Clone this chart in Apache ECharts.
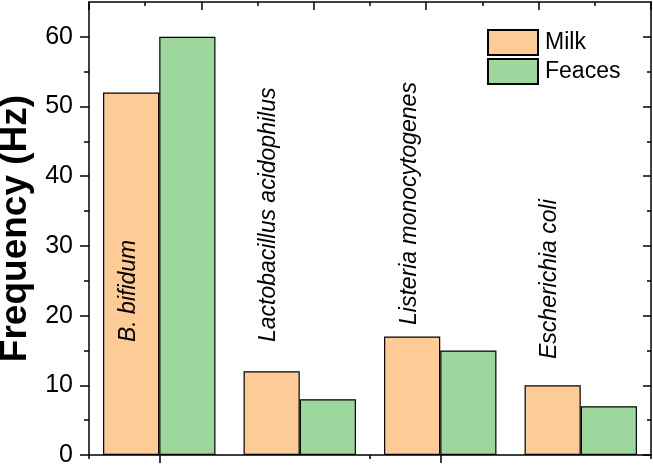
<!DOCTYPE html>
<html>
<head>
<meta charset="utf-8">
<script src="https://cdn.jsdelivr.net/npm/echarts@6/dist/echarts.min.js"></script>
<style>
html,body{margin:0;padding:0;background:#fff;}
#c{width:653px;height:466px;}
</style>
</head>
<body>
<div id="c"></div>
<script>
var categories = ['B. bifidum', 'Lactobacillus acidophilus', 'Listeria monocytogenes', 'Escherichia coli'];
var milk = [52, 12, 17, 10];
var feaces = [60, 8, 15, 7];
var seriesNames = ['Milk', 'Feaces'];
var yTicks = [0, 10, 20, 30, 40, 50, 60];

var labelLift = [113, 113, 130, 96];
var font = 'Liberation Sans, Arial, sans-serif';

var chart = echarts.init(document.getElementById('c'), null, {renderer: 'canvas'});

var milkData = milk.map(function (v, i) {
  return {
    value: v,
    label: {
      show: true,
      formatter: categories[i],
      position: 'insideBottom',
      distance: labelLift[i],
      rotate: 90,
      align: 'left',
      verticalAlign: 'middle',
      offset: [0, -3],
      fontStyle: 'italic',
      fontSize: 23,
      fontFamily: font,
      color: '#000'
    }
  };
});

var option = {
  animation: false,
  backgroundColor: '#fff',
  grid: {left: 89, right: 2, top: 2, bottom: 11, containLabel: false, outerBoundsMode: 'none'},
  legend: {
    orient: 'vertical',
    left: 487, top: 29, padding: 0,
    itemWidth: 50, itemHeight: 25, itemGap: 2,
    icon: 'rect',
    textStyle: {fontSize: 23, fontFamily: font, color: '#000', padding: [0, 0, 0, 2]},
    data: seriesNames
  },
  xAxis: [
    {
      type: 'category', data: categories, position: 'bottom',
      axisLine: {show: true, lineStyle: {color: '#000', width: 1.5}},
      axisTick: {show: true, alignWithLabel: true, length: 8, lineStyle: {color: '#000', width: 1.5}},
      axisLabel: {show: false},
      splitLine: {show: false}
    },
    {
      type: 'category', data: categories, position: 'bottom',
      axisLine: {show: false},
      axisTick: {show: true, alignWithLabel: false, length: 4, lineStyle: {color: '#000', width: 1.5}},
      axisLabel: {show: false},
      splitLine: {show: false}
    },
    {
      type: 'value', position: 'top', min: 0, max: 10, interval: 2,
      axisLine: {show: true, onZero: false, lineStyle: {color: '#000', width: 1.5}},
      axisTick: {show: true, inside: true, length: 8, lineStyle: {color: '#000', width: 1.5}},
      minorTick: {show: true, splitNumber: 2, length: 4, lineStyle: {color: '#000', width: 1.5}},
      axisLabel: {show: false},
      splitLine: {show: false}
    }
  ],
  yAxis: [
    {
      type: 'value', min: 0, max: 65, interval: 10, position: 'left',
      name: 'Frequency (Hz)', nameLocation: 'middle', nameGap: 54,
      nameTextStyle: {fontSize: 37, fontWeight: 'bold', fontFamily: font, color: '#000'},
      axisLine: {show: true, lineStyle: {color: '#000', width: 1.5}},
      axisTick: {show: true, length: 9, lineStyle: {color: '#000', width: 1.5}, customValues: yTicks},
      minorTick: {show: true, splitNumber: 2, length: 5, lineStyle: {color: '#000', width: 1.5}},
      axisLabel: {fontSize: 25, fontFamily: font, color: '#000', margin: 16, customValues: yTicks},
      splitLine: {show: false}
    },
    {
      type: 'value', min: 0, max: 65, interval: 10, position: 'right',
      axisLine: {show: true, lineStyle: {color: '#000', width: 1.5}},
      axisTick: {show: true, inside: true, length: 8, lineStyle: {color: '#000', width: 1.5}, customValues: yTicks},
      minorTick: {show: true, splitNumber: 2, length: 4, lineStyle: {color: '#000', width: 1.5}},
      axisLabel: {show: false},
      splitLine: {show: false}
    }
  ],
  series: [
    {
      name: seriesNames[0], type: 'bar', xAxisIndex: 0, yAxisIndex: 0,
      data: milkData,
      barGap: '0%', barCategoryGap: '20%',
      itemStyle: {color: '#FDCC96', borderColor: '#000', borderWidth: 1.2}
    },
    {
      name: seriesNames[1], type: 'bar', xAxisIndex: 0, yAxisIndex: 0,
      data: feaces,
      barGap: '0%', barCategoryGap: '20%',
      itemStyle: {color: '#9ED79E', borderColor: '#000', borderWidth: 1.2}
    }
  ]
};
chart.setOption(option);
</script>
</body>
</html>
